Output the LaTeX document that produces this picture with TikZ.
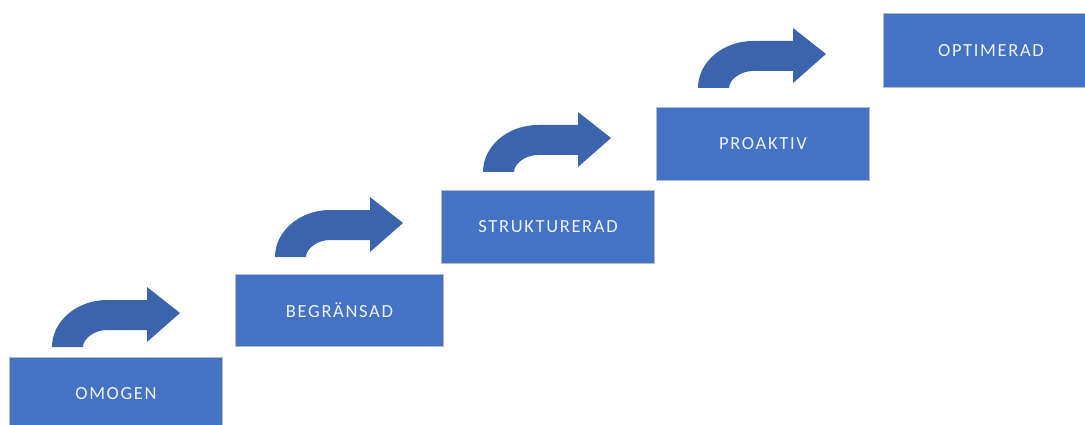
\documentclass[tikz,border=0pt]{standalone}
\usepackage{fontspec}
\setmainfont{Carlito}[LetterSpace=9]
\definecolor{boxblue}{HTML}{4472C4}
\definecolor{arrowblue}{HTML}{3C64AC}
\definecolor{boxedge}{HTML}{B4BAC6}
\definecolor{labeltext}{HTML}{EEF2FA}
\tikzset{
  stepbox/.style={rectangle, fill=boxblue, draw=boxedge, line width=1pt,
    anchor=north west, inner sep=0pt, text=labeltext,
    font=\fontsize{18.5}{20}\selectfont},
  pics/bentarrow/.style={code={
    \fill[arrowblue] (0,0) .. controls (0,-26) and (25,-47) .. (55,-47)
      -- (95,-47) -- (95,-60) -- (128,-34) -- (95,-5) -- (95,-17)
      -- (55,-17) .. controls (42,-17) and (31,-8) .. (31,0) -- cycle;
  }}
}
\begin{document}
\begin{tikzpicture}[x=1pt,y=-1pt]
\useasboundingbox (0,0) rectangle (1085,425);
\clip (0,0) rectangle (1085,425);
\node[stepbox, minimum width=213pt, minimum height=73pt] (omogen) at (9,357) {OMOGEN};
\node[stepbox, minimum width=208pt, minimum height=72pt] (begransad) at (235,274) {BEGRÄNSAD};
\node[stepbox, minimum width=213pt, minimum height=73pt] (strukturerad) at (441,190) {STRUKTURERAD};
\node[stepbox, minimum width=213pt, minimum height=73pt] (proaktiv) at (656,107) {PROAKTIV};
\node[stepbox, minimum width=215pt, minimum height=74pt] (optimerad) at (883,13) {OPTIMERAD};
\pic at (52,347) {bentarrow};
\pic at (275,257) {bentarrow};
\pic at (483,172) {bentarrow};
\pic at (698,88) {bentarrow};
\end{tikzpicture}
\end{document}
